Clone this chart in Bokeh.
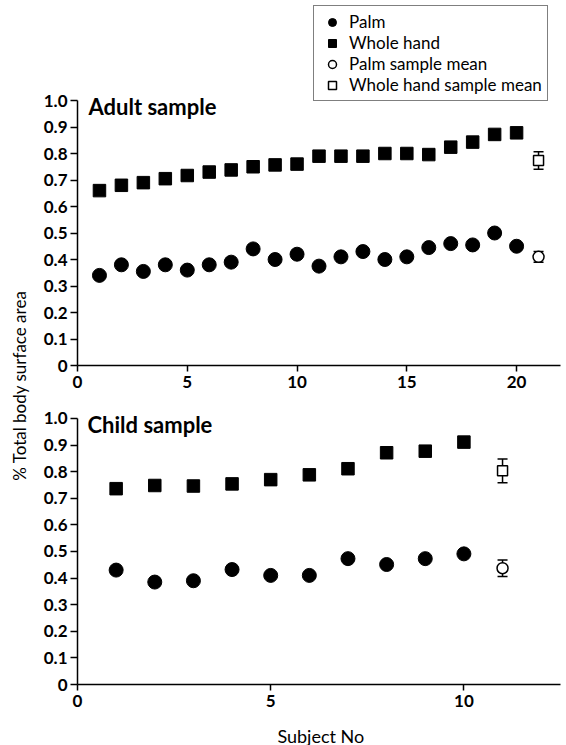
import math
from bokeh.plotting import figure
from bokeh.layouts import row, column
from bokeh.models import (ColumnDataSource, Whisker, TeeHead, Label, Legend, LegendItem,
                          FixedTicker, Range1d)
from bokeh.embed import file_html
from bokeh.resources import INLINE

# ---------------- data ----------------
adult_subjects = list(range(1, 21))
adult_palm = [0.34, 0.38, 0.355, 0.38, 0.36, 0.38, 0.39, 0.44, 0.40, 0.42,
              0.375, 0.41, 0.43, 0.40, 0.41, 0.445, 0.46, 0.455, 0.50, 0.45]
adult_whole = [0.66, 0.68, 0.69, 0.705, 0.717, 0.73, 0.738, 0.75, 0.757, 0.76,
               0.79, 0.79, 0.79, 0.80, 0.80, 0.796, 0.824, 0.843, 0.872, 0.878]
adult_mean_x = [21]
adult_palm_mean = [0.41]
adult_palm_err = [0.02]
adult_whole_mean = [0.774]
adult_whole_err = [0.033]

child_subjects = list(range(1, 11))
child_palm = [0.43, 0.385, 0.39, 0.432, 0.41, 0.41, 0.473, 0.451, 0.473, 0.491]
child_whole = [0.736, 0.748, 0.746, 0.754, 0.77, 0.788, 0.811, 0.871, 0.877, 0.911]
child_mean_x = [11]
child_palm_mean = [0.437]
child_palm_err = [0.031]
child_whole_mean = [0.803]
child_whole_err = [0.045]

y_ticks = [0, 0.1, 0.2, 0.3, 0.4, 0.5, 0.6, 0.7, 0.8, 0.9, 1.0]
y_tick_labels = ["0", "0.1", "0.2", "0.3", "0.4", "0.5", "0.6", "0.7", "0.8", "0.9", "1.0"]
adult_x_ticks = [0, 5, 10, 15, 20]
child_x_ticks = [0, 5, 10]

legend_labels = ["Palm", "Whole hand", "Palm sample mean", "Whole hand sample mean"]
panel_titles = ["Adult sample", "Child sample"]
x_title = "Subject No"
y_title = "% Total body surface area"

FONT = "Lato"


def style(p, xticks):
    p.xgrid.visible = False
    p.ygrid.visible = False
    p.outline_line_color = None
    p.background_fill_color = "white"
    p.border_fill_color = "white"
    for ax in (p.xaxis[0], p.yaxis[0]):
        ax.axis_line_color = "black"
        ax.axis_line_width = 1.5
        ax.major_tick_line_color = "black"
        ax.major_tick_line_width = 1.5
        ax.minor_tick_line_color = None
        ax.major_label_text_font = FONT
        ax.major_label_text_font_style = "bold"
        ax.major_label_text_font_size = "17px"
        ax.major_label_text_color = "black"
        ax.major_tick_in = 0
    p.yaxis[0].bounds = (0, 1.0)
    p.yaxis[0].major_tick_out = 7
    p.yaxis[0].ticker = FixedTicker(ticks=y_ticks)
    p.yaxis[0].major_label_overrides = {t: l for t, l in zip(y_ticks, y_tick_labels)}
    p.yaxis[0].major_label_standoff = 3
    p.xaxis[0].major_tick_out = 6
    p.xaxis[0].ticker = FixedTicker(ticks=xticks)
    p.xaxis[0].major_label_standoff = 4


def draw(p, xs, palm, whole, mx, pm, pe, wm, we):
    r_palm = p.scatter(xs, palm, marker="circle", size=14, color="black")
    r_whole = p.scatter(xs, whole, marker="square", size=12.5, color="black")
    src = ColumnDataSource(dict(
        x=mx + mx,
        upper=[pm[0] + pe[0], wm[0] + we[0]],
        lower=[pm[0] - pe[0], wm[0] - we[0]],
    ))
    wh = Whisker(source=src, base="x", upper="upper", lower="lower",
                 line_color="black", line_width=1.5, level="underlay",
                 upper_head=TeeHead(size=10, line_width=1.5, line_color="black"),
                 lower_head=TeeHead(size=10, line_width=1.5, line_color="black"))
    p.add_layout(wh)
    r_pm = p.scatter(mx, pm, marker="circle", size=11, fill_color="white",
                     line_color="black", line_width=1.5)
    r_wm = p.scatter(mx, wm, marker="square", size=10, fill_color="white",
                     line_color="black", line_width=1.5)
    return [r_palm, r_whole, r_pm, r_wm]


# ---------------- top (adult) ----------------
p1 = figure(width=536, height=390, output_backend="svg", toolbar_location=None,
            x_range=Range1d(0, 22.0), y_range=Range1d(0, 1.3774),
            min_border_left=47, min_border_right=6, min_border_top=0, min_border_bottom=25)
style(p1, adult_x_ticks)
rs = draw(p1, adult_subjects, adult_palm, adult_whole, adult_mean_x,
          adult_palm_mean, adult_palm_err, adult_whole_mean, adult_whole_err)
p1.add_layout(Label(x=0.5, y=0.977, text=panel_titles[0], text_font=FONT,
                    text_font_style="bold", text_font_size="22px", text_color="black",
                    text_baseline="alphabetic", text_align="left"))

legend = Legend(items=[LegendItem(label=l, renderers=[r]) for l, r in zip(legend_labels, rs)],
                location=(236, 264), label_text_font=FONT, label_text_font_size="17px",
                label_text_color="black",
                label_height=20, glyph_height=20, glyph_width=26, spacing=0, padding=5,
                margin=0, border_line_color="black", border_line_width=1.5,
                background_fill_color="white", background_fill_alpha=1.0,
                label_standoff=4)
p1.add_layout(legend)

# ---------------- bottom (child) ----------------
p2 = figure(width=536, height=330, output_backend="svg", toolbar_location=None,
            x_range=Range1d(0, 12.5), y_range=Range1d(0, 1.105),
            min_border_left=47, min_border_right=6, min_border_top=0, min_border_bottom=36)
style(p2, child_x_ticks)
draw(p2, child_subjects, child_palm, child_whole, child_mean_x,
     child_palm_mean, child_palm_err, child_whole_mean, child_whole_err)
p2.add_layout(Label(x=0.26, y=0.977, text=panel_titles[1], text_font=FONT,
                    text_font_style="bold", text_font_size="22px", text_color="black",
                    text_baseline="alphabetic", text_align="left"))

# ---------------- x label strip ----------------
px = figure(width=536, height=25, output_backend="svg", toolbar_location=None,
            x_range=Range1d(0, 536), y_range=Range1d(0, 25), min_border=0,
            x_axis_location=None, y_axis_location=None)
px.xgrid.visible = False
px.ygrid.visible = False
px.outline_line_color = None
px.add_layout(Label(x=270, y=10, text=x_title, text_font=FONT, text_font_size="18px",
                    text_color="black", text_align="center", text_baseline="middle"))

# ---------------- y label strip ----------------
pl = figure(width=30, height=745, output_backend="svg", toolbar_location=None,
            x_range=Range1d(0, 30), y_range=Range1d(0, 745), min_border=0,
            x_axis_location=None, y_axis_location=None)
pl.xgrid.visible = False
pl.ygrid.visible = False
pl.outline_line_color = None
pl.add_layout(Label(x=18.5, y=360, text=y_title, text_font=FONT, text_font_size="17px",
                    text_color="black",
                    angle=math.pi / 2, text_align="center", text_baseline="middle"))

layout = row(pl, column(p1, p2, px))
open("out.html", "w").write(file_html(layout, INLINE))
